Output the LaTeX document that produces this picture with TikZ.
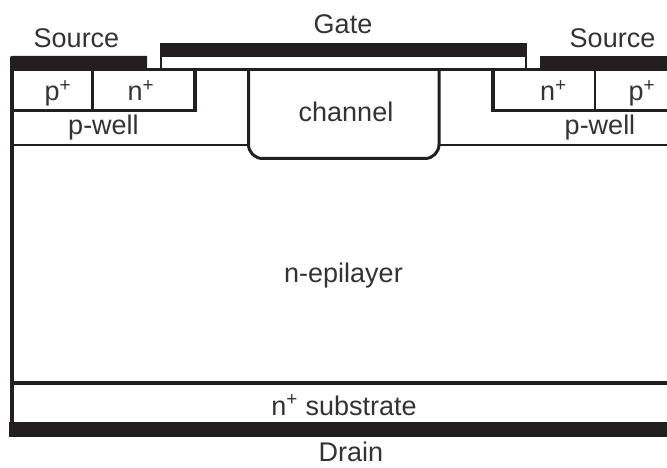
\documentclass[tikz,border=0pt]{standalone}
\usepackage{fontspec}
\setmainfont{Liberation Sans}
\definecolor{ink}{HTML}{231F20}
\definecolor{txt}{HTML}{333333}
\tikzset{
  x=1pt,y=-1pt,
  metal/.style={fill=ink,draw=none},
  thinl/.style={draw=ink,line width=2.5pt},
  medl/.style={draw=ink,line width=3pt},
  thickl/.style={draw=ink,line width=4pt},
  lbl/.style={text=txt,inner sep=0pt,anchor=base,font=\fontsize{27}{30}\selectfont},
}
\newcommand{\plus}{\textsuperscript{+}}
\begin{document}
\begin{tikzpicture}
\useasboundingbox (0,0) rectangle (667,468);
\fill[white] (0,0) rectangle (667,468);
% metals
\fill[metal] (10,57) -- (12,56) -- (147,56) -- (147,71) -- (10,71) -- cycle;
\fill[metal] (160,43) rectangle (527,57);
\fill[metal] (540,56) rectangle (667,71);
\fill[metal] (9,422) rectangle (667,437);
% oxide
\draw[thinl] (161,57) -- (161,70);
\draw[thinl] (526,57) -- (526,70);
\draw[medl] (147,70) -- (540,70);
% outer left
\draw[thickl] (11.5,60) -- (11.5,422);
% source wells
\draw[medl] (11,111) -- (195,111);
\draw[thickl] (195,70) -- (195,112.5);
\draw[thickl] (493,70) -- (493,112.5);
\draw[medl] (493,111) -- (667,111);
\draw[thinl] (92.5,71) -- (92.5,110);
\draw[thinl] (595,71) -- (595,110);
% p-well bottoms
\draw[thinl] (11,145) -- (248,145);
\draw[thinl] (439,145) -- (667,145);
% channel
\draw[medl,rounded corners=14pt] (248.5,70) -- (248.5,158.5) -- (439,158.5) -- (439,70);
% substrate
\draw[thickl] (11,383) -- (667,383);
% labels
\node[lbl] (src1) at (76.5,48) {Source};
\node[lbl] (gate) at (343,34) {Gate};
\node[lbl] (src2) at (612.5,48) {Source};
\node[lbl] (pl) at (58,101) {p\plus};
\node[lbl] (nl) at (141,101) {n\plus};
\node[lbl] (nr) at (553.5,101) {n\plus};
\node[lbl] (pr) at (642,101) {p\plus};
\node[lbl] (wl) at (103.5,135) {p-well};
\node[lbl] (wr) at (600,135) {p-well};
\node[lbl] (ch) at (346,122) {channel};
\node[lbl] (epi) at (343.5,282) {n-epilayer};
\node[lbl] (sub) at (344,415) {n\plus{} substrate};
\node[lbl] (dr) at (351,461.5) {Drain};
\end{tikzpicture}
\end{document}
